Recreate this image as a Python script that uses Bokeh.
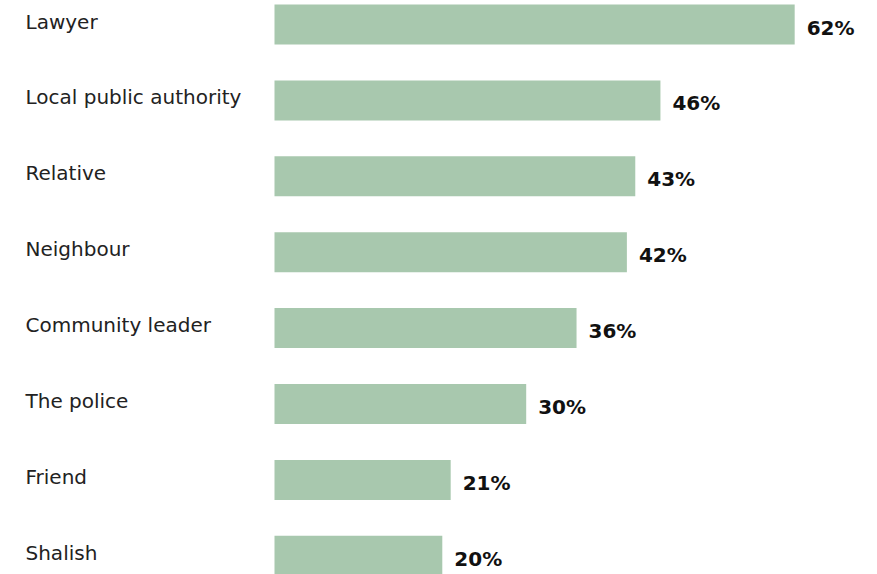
from bokeh.plotting import figure
from bokeh.models import ColumnDataSource, Range1d
from bokeh.embed import file_html
from bokeh.resources import INLINE
from bokeh.core.properties import value

categories = ["Lawyer", "Local public authority", "Relative", "Neighbour",
              "Community leader", "The police", "Friend", "Shalish"]
shares = [62, 46, 43, 42, 36, 30, 21, 20]
value_labels = [f"{v}%" for v in shares]

# layout constants (pixels)
W, H = 877, 574
PX_PER_PCT = 8.39
BAR_LEFT_PX = 274
PITCH = 75.9
TOP_CENTER = 24
BAR_H_PX = 40

x0 = -BAR_LEFT_PX / PX_PER_PCT
x1 = (W - BAR_LEFT_PX) / PX_PER_PCT
y_top = -TOP_CENTER / PITCH
y_bot = (H - TOP_CENTER) / PITCH

src = ColumnDataSource(dict(
    idx=list(range(len(categories))),
    cat=categories,
    share=shares,
    lab=value_labels,
    left_anchor=[x0] * len(categories),
))

p = figure(width=W, height=H, x_range=Range1d(x0, x1), y_range=Range1d(y_bot, y_top),
           output_backend="svg", toolbar_location=None, min_border=0,
           background_fill_color="white", border_fill_color="white")
p.axis.visible = False
p.grid.visible = False
p.outline_line_color = None

p.hbar(y="idx", left=0, right="share", height=BAR_H_PX / PITCH, source=src,
       fill_color="#a8c8ae", line_color=None)

p.text(x="left_anchor", y="idx", text="cat", source=src, x_offset=25, y_offset=-3,
       text_font=value("DejaVu Sans"), text_font_size="20px", text_color="#222222",
       text_baseline="middle", text_align="left")

p.text(x="share", y="idx", text="lab", source=src, x_offset=12, y_offset=3,
       text_font=value("DejaVu Sans"), text_font_style="bold", text_font_size="20px",
       text_color="#111111", text_baseline="middle", text_align="left")

open("out.html", "w").write(file_html(p, INLINE))
